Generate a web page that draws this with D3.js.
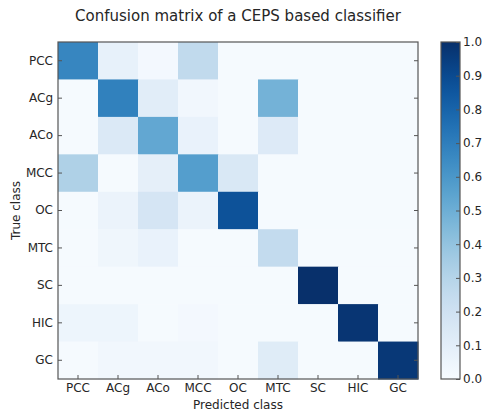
<!DOCTYPE html>
<html>
<head>
<meta charset="utf-8">
<script src="https://cdn.jsdelivr.net/npm/d3@7"></script>
<style>
  html, body { margin: 0; padding: 0; background: #ffffff; }
  svg { display: block; font-family: "DejaVu Sans", sans-serif; }
</style>
</head>
<body>
<svg id="chart" width="483" height="412"></svg>
<script>
// ---- data ----
const trueClasses = ["PCC", "ACg", "ACo", "MCC", "OC", "MTC", "SC", "HIC", "GC"];
const predClasses = ["PCC", "ACg", "ACo", "MCC", "OC", "MTC", "SC", "HIC", "GC"];
const rowPCC = [0.67, 0.08, 0.02, 0.26, 0.01, 0.01, 0.01, 0.01, 0.01];
const rowACg = [0.01, 0.69, 0.11, 0.03, 0.01, 0.48, 0.01, 0.01, 0.01];
const rowACo = [0.01, 0.14, 0.53, 0.07, 0.01, 0.13, 0.01, 0.01, 0.01];
const rowMCC = [0.32, 0.01, 0.09, 0.57, 0.15, 0.01, 0.01, 0.01, 0.01];
const rowOC  = [0.01, 0.06, 0.17, 0.06, 0.87, 0.01, 0.01, 0.01, 0.01];
const rowMTC = [0.01, 0.04, 0.07, 0.01, 0.01, 0.25, 0.01, 0.01, 0.01];
const rowSC  = [0.01, 0.01, 0.01, 0.01, 0.01, 0.01, 1.00, 0.01, 0.01];
const rowHIC = [0.05, 0.05, 0.01, 0.02, 0.01, 0.01, 0.01, 0.98, 0.01];
const rowGC  = [0.01, 0.03, 0.03, 0.03, 0.01, 0.12, 0.01, 0.01, 0.97];
const matrixRows = [rowPCC, rowACg, rowACo, rowMCC, rowOC, rowMTC, rowSC, rowHIC, rowGC];
const colorbarTicks = [0.0, 0.1, 0.2, 0.3, 0.4, 0.5, 0.6, 0.7, 0.8, 0.9, 1.0];

const titleText = "Confusion matrix of a CEPS based classifier";
const xLabelText = "Predicted class";
const yLabelText = "True class";

// ---- layout ----
const svg = d3.select("#chart");
const plot = { left: 58, top: 42, width: 360, height: 337 };
const cbar = { left: 441, top: 42, width: 19, height: 337 };
const textColor = "#262626";
const spineColor = "#555555";

const cells = [];
matrixRows.forEach((row, i) => row.forEach((v, j) => cells.push({ t: trueClasses[i], p: predClasses[j], v })));

const x = d3.scaleBand().domain(predClasses).range([plot.left, plot.left + plot.width]);
const y = d3.scaleBand().domain(trueClasses).range([plot.top, plot.top + plot.height]);
const color = d3.scaleSequential(d3.interpolateBlues).domain([0, 1]);

// cells
svg.append("g").selectAll("rect").data(cells).join("rect")
  .attr("x", d => x(d.p))
  .attr("y", d => y(d.t))
  .attr("width", x.bandwidth() + 0.5)
  .attr("height", y.bandwidth() + 0.5)
  .attr("fill", d => color(d.v));

// axes
function styleAxis(g) {
  g.select(".domain").remove();
  g.selectAll(".tick line").attr("stroke", spineColor).attr("stroke-width", 1);
  g.selectAll(".tick text").attr("fill", textColor).attr("font-size", 12)
    .attr("font-family", "DejaVu Sans, sans-serif");
}
svg.append("g").attr("transform", `translate(0,${plot.top + plot.height})`)
  .call(d3.axisBottom(x).tickSize(-4).tickPadding(4)).call(styleAxis);
svg.append("g").attr("transform", `translate(${plot.left},0)`)
  .call(d3.axisLeft(y).tickSize(-4).tickPadding(5)).call(styleAxis);
svg.append("g").attr("transform", `translate(${plot.left + plot.width},0)`)
  .call(d3.axisRight(y).tickSize(-4).tickFormat("")).call(styleAxis);

// frame
svg.append("rect")
  .attr("x", plot.left).attr("y", plot.top)
  .attr("width", plot.width).attr("height", plot.height)
  .attr("fill", "none").attr("stroke", spineColor).attr("stroke-width", 1.2);

// title & labels
svg.append("text").attr("x", plot.left + plot.width / 2).attr("y", 21)
  .attr("text-anchor", "middle").attr("font-size", 15).attr("fill", textColor)
  .text(titleText);
svg.append("text").attr("x", plot.left + plot.width / 2).attr("y", 409)
  .attr("text-anchor", "middle").attr("font-size", 12).attr("fill", textColor)
  .text(xLabelText);
svg.append("text")
  .attr("transform", `translate(20,${plot.top + plot.height / 2}) rotate(-90)`)
  .attr("text-anchor", "middle").attr("font-size", 12).attr("fill", textColor)
  .text(yLabelText);

// colorbar
const defs = svg.append("defs");
const grad = defs.append("linearGradient").attr("id", "cbgrad")
  .attr("x1", 0).attr("y1", 1).attr("x2", 0).attr("y2", 0);
d3.range(0, 1.0001, 0.05).forEach(t => grad.append("stop")
  .attr("offset", t).attr("stop-color", color(t)));
svg.append("rect")
  .attr("x", cbar.left).attr("y", cbar.top)
  .attr("width", cbar.width).attr("height", cbar.height)
  .attr("fill", "url(#cbgrad)").attr("stroke", spineColor).attr("stroke-width", 1.2);
const cy = d3.scaleLinear().domain([0, 1]).range([cbar.top + cbar.height, cbar.top]);
svg.append("g").attr("transform", `translate(${cbar.left + cbar.width},0)`)
  .call(d3.axisRight(cy).tickValues(colorbarTicks).tickFormat(d3.format(".1f")).tickSize(-4).tickPadding(3))
  .call(styleAxis);
</script>
</body>
</html>
